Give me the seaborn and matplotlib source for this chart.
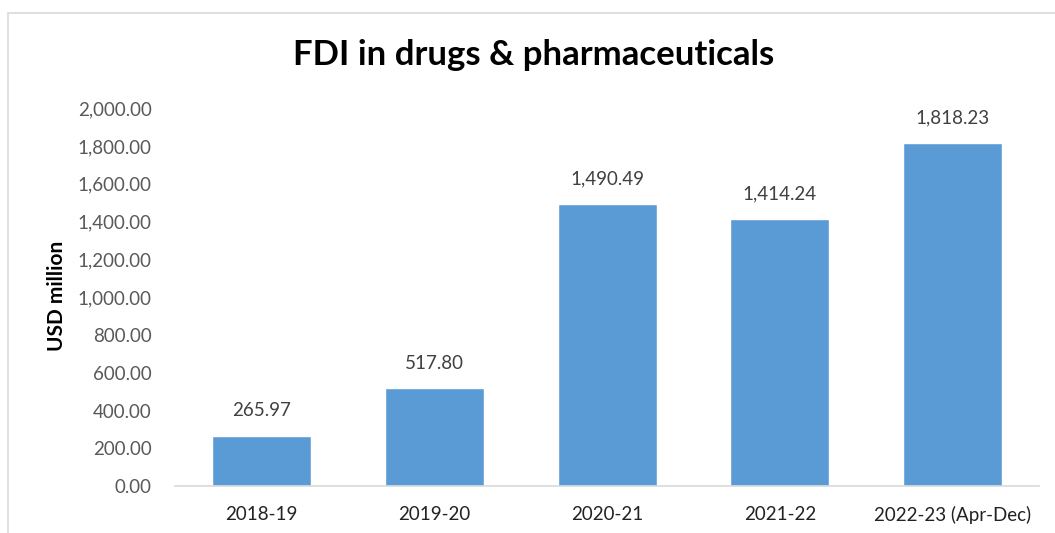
import matplotlib
matplotlib.use("Agg")
import matplotlib.pyplot as plt
import seaborn as sns
import pandas as pd
from matplotlib.patches import Rectangle

categories = ["2018-19", "2019-20", "2020-21", "2021-22", "2022-23 (Apr-Dec)"]
values = [265.97, 517.80, 1490.49, 1414.24, 1818.23]
yticks = [0, 200, 400, 600, 800, 1000, 1200, 1400, 1600, 1800, 2000]

df = pd.DataFrame({"period": categories, "fdi": values})

sns.set_theme(style="white")
plt.rcParams['font.family'] = ['Lato', 'DejaVu Sans']

fig = plt.figure(figsize=(10.55, 5.33), dpi=100)
ax = fig.add_axes([0.166, 0.088, 0.819, 0.709])

sns.barplot(data=df, x="period", y="fdi", color="#5b9bd5", width=0.573,
            saturation=1, ax=ax)

ax.set_ylim(0, 2000)
ax.set_yticks(yticks)
ax.set_yticklabels([f"{v:,.2f}" for v in yticks], color="#595959", fontsize=13.5)
ax.set_xticklabels(categories, color="#222222", fontsize=13.5)
ax.tick_params(axis="y", length=0, pad=17)
ax.tick_params(axis="x", length=0, pad=14)
ax.set_xlim(-0.5, 4.5)
ax.set_xlabel("")
ax.set_ylabel("")

for s in ["top", "right", "left"]:
    ax.spines[s].set_visible(False)
ax.spines["bottom"].set_color("#d9d9d9")
ax.spines["bottom"].set_linewidth(1.2)

for i, v in enumerate(values):
    ax.annotate(f"{v:,.2f}", (i, v), xytext=(0, 12), textcoords="offset points",
                ha="center", va="bottom", fontsize=13.5, color="#404040")

fig.text(57/1055, 1 - 296/533, "USD million", rotation=90, ha="center", va="center",
         fontsize=15, fontweight="bold", color="black")

fig.text(0.506, 0.897, "FDI in drugs & pharmaceuticals", ha="center", va="center",
         fontsize=25, fontweight="bold", color="black")

fig.patches.append(Rectangle((8/1055, -0.1), 1.2, 1 - 13/533 + 0.1,
                             transform=fig.transFigure, fill=False,
                             edgecolor="#d9d9d9", linewidth=1.2))

fig.savefig("out.png", dpi=100)
